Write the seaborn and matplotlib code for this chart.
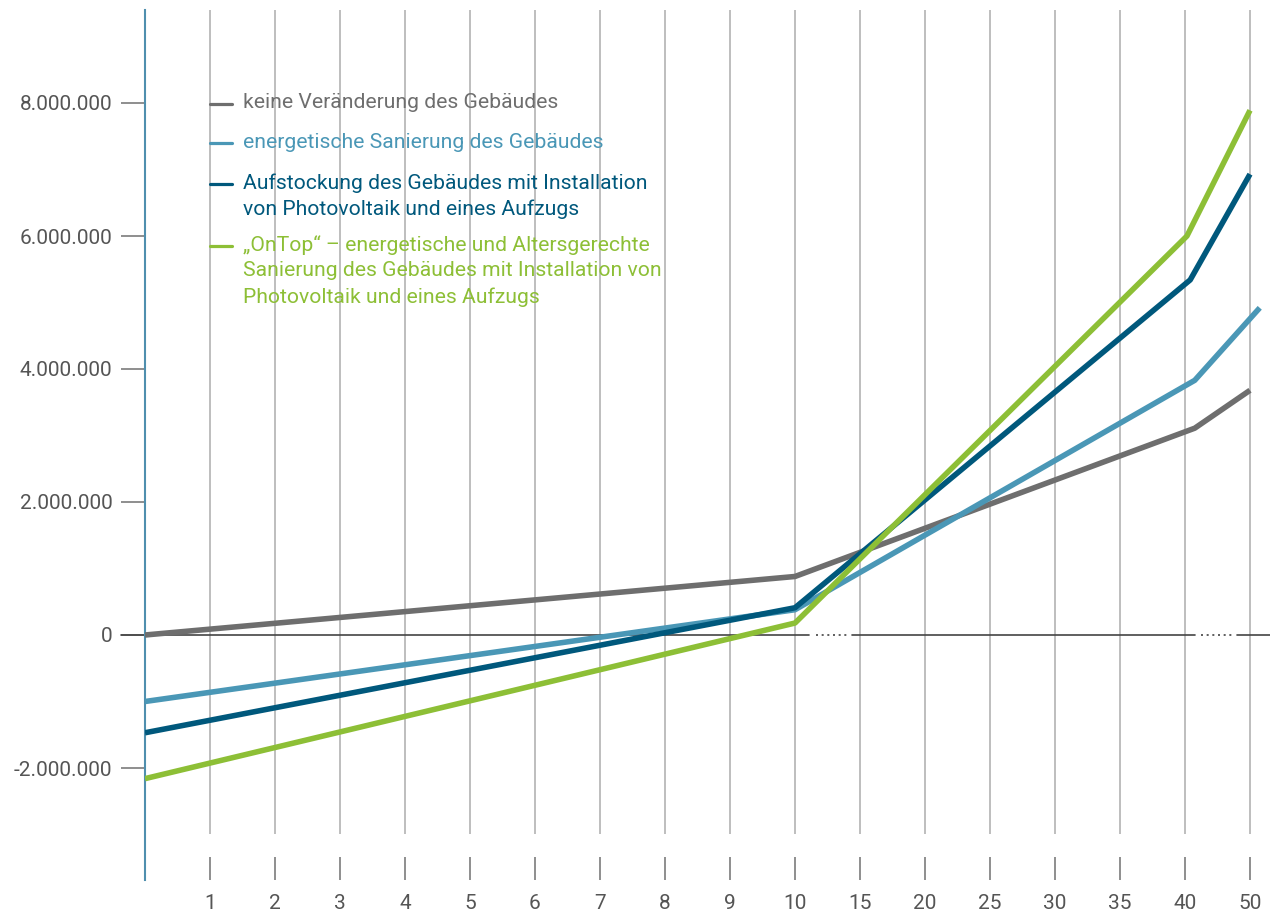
import matplotlib
matplotlib.use("Agg")
import matplotlib.pyplot as plt
import seaborn as sns
import pandas as pd
import numpy as np

# ---------------- data ----------------
x_labels = ["1", "2", "3", "4", "5", "6", "7", "8", "9", "10",
            "15", "20", "25", "30", "35", "40", "50"]
y_ticks = [-2_000_000, 0, 2_000_000, 4_000_000, 6_000_000, 8_000_000]

series_names = [
    "keine Veränderung des Gebäudes",
    "energetische Sanierung des Gebäudes",
    "Aufstockung des Gebäudes mit Installation\nvon Photovoltaik und eines Aufzugs",
    "„OnTop“ – energetische und Altersgerechte\nSanierung des Gebäudes mit Installation von\nPhotovoltaik und eines Aufzugs",
]
colors = ["#6e6e6e", "#4a97b6", "#00587c", "#8dbf36"]

# x positions on the categorical axis (0 = start, 10 = year 10, 16 = year 40, 17 = year 50)
pos_grey = [0, 10, 16.15, 17.0]
val_grey = [0, 880_000, 3_110_000, 3_680_000]
pos_light = [0, 10, 16.15, 17.15]
val_light = [-1_000_000, 380_000, 3_830_000, 4_920_000]
pos_dark = [0, 10, 16.08, 17.0]
val_dark = [-1_470_000, 410_000, 5_340_000, 6_930_000]
pos_green = [0, 10, 16.03, 17.0]
val_green = [-2_160_000, 180_000, 6_000_000, 7_890_000]

frames = []
for name, p, v in zip(series_names,
                      [pos_grey, pos_light, pos_dark, pos_green],
                      [val_grey, val_light, val_dark, val_green]):
    frames.append(pd.DataFrame({"pos": p, "value": v, "series": name}))
df = pd.concat(frames, ignore_index=True)

# ---------------- style ----------------
sns.set_theme(style="white")
plt.rcParams["font.family"] = ["Roboto", "DejaVu Sans"]

W, H = 1277, 917
fig = plt.figure(figsize=(W / 100, H / 100), dpi=100)
ax_left, ax_right = 145 / W, 1270 / W
ax_top, ax_bottom = 1 - 10 / H, 1 - 880 / H
ax = fig.add_axes([ax_left, ax_bottom, ax_right - ax_left, ax_top - ax_bottom])

y_top = (635 - 10) / 66.5 * 1e6
y_bot = (635 - 880) / 66.5 * 1e6
x_max = (1270 - 145) / 65
ax.set_xlim(0, x_max)
ax.set_ylim(y_bot, y_top)

# vertical grid lines
grid_bottom = (635 - 834) / 66.5 * 1e6
ax.vlines(np.arange(1, 18), grid_bottom, y_top, color="#b9b9b9", lw=1.3, zorder=1)

# zero line with axis breaks (dotted)
zc = "#444444"
ax.plot([-24 / 65, 10.22], [0, 0], color=zc, lw=1.2, clip_on=False, zorder=2)
ax.plot([10.32, 10.8], [0, 0], color=zc, lw=1.2, ls=(0, (1.2, 2.2)), zorder=2)
ax.plot([10.88, 16.15], [0, 0], color=zc, lw=1.2, zorder=2)
ax.plot([16.25, 16.73], [0, 0], color=zc, lw=1.2, ls=(0, (1.2, 2.2)), zorder=2)
ax.plot([16.8, x_max], [0, 0], color=zc, lw=1.2, zorder=2)

# data lines
sns.lineplot(data=df, x="pos", y="value", hue="series", palette=colors,
             hue_order=series_names, sort=False, legend=False, ax=ax,
             linewidth=4.0, zorder=3)
for ln in ax.get_lines()[-4:]:
    ln.set_solid_capstyle("butt")
    ln.set_solid_joinstyle("round")

# spines
for s in ["top", "right", "bottom"]:
    ax.spines[s].set_visible(False)
ax.spines["left"].set_color("#4f8fae")
ax.spines["left"].set_linewidth(1.5)

# y ticks
def fmt(v):
    s = f"{abs(int(v)):,}".replace(",", ".")
    return ("-" if v < 0 else "") + s
ax.set_yticks(y_ticks)
ax.set_yticklabels([fmt(v) for v in y_ticks])
ax.tick_params(axis="y", direction="out", length=17.5, width=1.1, color="#707070",
               pad=6, labelsize=15, labelcolor="#555555", left=True)

# x ticks
ax.set_xticks(np.arange(1, 18))
ax.set_xticklabels(x_labels)
ax.tick_params(axis="x", direction="in", length=16.5, width=1.1, color="#707070",
               pad=10, labelsize=15, labelcolor="#555555", bottom=True)
ax.set_xlabel("")
ax.set_ylabel("")

# legend (manual, one text per line)
leg_first_y = [103, 142, 183, 245]
line_step = 26
for yp, txt, c in zip(leg_first_y, series_names, colors):
    fy = 1 - (yp + 1) / H
    fig.add_artist(plt.Line2D([210 / W, 232 / W], [fy, fy], color=c, lw=2.3,
                              transform=fig.transFigure))
    for i, part in enumerate(txt.split("\n")):
        fig.text(243 / W, 1 - (yp + i * line_step) / H, part, color=c,
                 fontsize=15.2, va="center", transform=fig.transFigure)

fig.savefig("out.png", dpi=100)
